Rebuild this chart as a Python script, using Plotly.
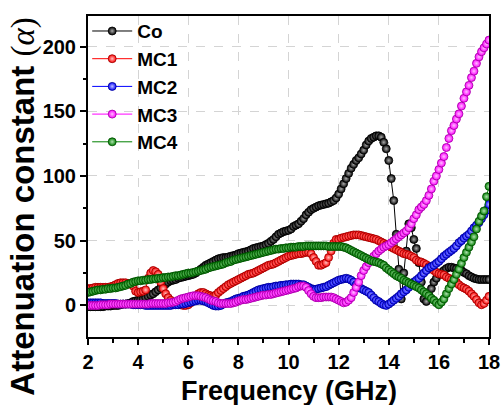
import numpy as np
import plotly.graph_objects as go

# Frequency grid (GHz), 0.1 GHz step from 2 to 18
freq = np.round(np.linspace(2, 18, 161), 2)

co = [
    -1, -1, -1, -1, -1, -1, -1, -0.5, -0.5, -0.5,
    0, 0, 0, 0.5, 1, 1, 1.5, 2, 3, 3.5,
    4, 4.5, 5, 6, 7, 8, 9, 10.5, 12, 13.5,
    15, 16.5, 18, 19, 19.5, 20, 21, 21.5, 22, 22.5,
    23, 23.5, 24, 25, 26.5, 28, 29.5, 31, 32, 33,
    34, 35, 36, 36.5, 37, 37, 37.5, 38, 38.5, 39,
    40, 40.5, 41, 41.5, 42, 43, 44, 44.5, 45, 45.5,
    46, 47, 48, 49.5, 51, 53, 55, 56, 57, 57.5,
    58, 59, 61, 62, 63, 65, 67, 70, 72, 74,
    75, 76, 77, 77.5, 78, 78.5, 79, 80, 81, 83,
    86, 90, 94, 98, 102, 106, 109, 112, 114, 117,
    120, 124, 127, 129, 130, 131, 131, 130, 126, 121,
    112, 98, 81, 55, 28, 5, 25, 42, 63, 60,
    51, 44, 33, 18, 5, 3, 8, 13, 18, 21,
    24, 25.5, 27, 28.5, 29.5, 29.5, 29, 28.5, 28, 27,
    25.5, 24.5, 23, 22, 21, 20.5, 20, 20, 20, 20,
    20,
]

mc1 = [
    13, 13, 13.5, 14, 14, 14, 14, 14, 14, 14.5,
    15, 16, 17, 17.5, 17.5, 17.5, 17, 16.5, 15, 11,
    10, 10.5, 11, 12, 21, 25, 27, 26, 24, 18,
    13, 9, 6, 4, 2.5, 1.5, 1, 0.5, 0, 0,
    0.5, 2, 4, 6.5, 9, 10, 10, 9, 8, 7.5,
    7, 8, 10, 11.5, 13, 14.5, 16, 17, 18, 19,
    20, 21, 22, 23, 24, 24.5, 25, 26, 27, 28,
    29, 30, 31, 31.5, 32, 33, 34, 35, 36, 37,
    38, 38.5, 39, 39.5, 40, 40, 40.5, 41, 41, 40,
    37, 34, 31, 31, 32, 33, 37, 42, 48, 51,
    51, 52, 52.5, 53, 53.5, 54, 54.5, 54.5, 54.5, 54,
    53.5, 53, 52.5, 52, 51.5, 51, 50, 49, 48, 47,
    46, 45, 44, 43, 42, 41, 40, 39.5, 39, 38,
    37, 35, 34, 33.5, 32.5, 31.5, 30, 28.5, 27, 25.5,
    24.5, 24, 23.5, 22, 21, 20, 19, 18, 16, 14.5,
    13.5, 12.5, 11, 9, 7, 4.5, 2, 0.5, 1.5, 4,
    7,
]

mc2 = [
    2, 2, 2, 2, 2, 2, 1.5, 1.5, 1.5, 1.5,
    1.5, 1.5, 1, 1, 1, 1, 1, 1, 0.5, 0.5,
    0.5, 0.5, 0.5, 0, 0, 0, 0, 0, 0, 0,
    0, 0, 0, 0, 0.5, 0.5, 0.5, 1, 1, 1.5,
    2, 2.5, 3, 3.5, 4, 4, 3.5, 3, 2, 1,
    0, -0.5, -0.5, 0, 1, 2, 2.5, 3, 4, 5,
    5.5, 6, 7, 7.5, 8, 9, 10, 11, 12, 12.5,
    13, 13.5, 14, 14, 14.5, 15, 15, 15.5, 15.5, 16,
    16, 16.5, 16.5, 16.5, 16.5, 16, 16, 15, 14, 13,
    12.5, 12.5, 13, 13.5, 14, 14.5, 15.5, 16.5, 17.5, 18.5,
    19.5, 20, 20.5, 21, 20.5, 19.5, 18, 16, 14, 13,
    12, 11, 10, 8, 6, 4, 3, 1.5, 0.5, 0,
    1, 2.5, 4, 5.5, 7, 9, 10.5, 12, 14, 16,
    18, 19.5, 21, 23, 25, 27, 29, 30, 31, 32.5,
    34, 36, 38, 39.5, 41, 42.5, 44, 46, 48.5, 50,
    52, 53.5, 55, 57.5, 60, 62, 64, 67, 70, 73.5,
    78,
]

mc3 = [
    0, 0, 0, 0, 0, 0.5, 0.5, 0.5, 0.5, 1,
    1, 1, 1, 1, 1, 1, 1, 1, 1, 1,
    1, 1, 1, 1, 1, 1.5, 1.5, 1.5, 1.5, 1.5,
    1.5, 1.5, 2, 2, 2.5, 3, 4, 5, 5.5, 6,
    6.5, 7, 7.5, 7.5, 7.5, 7, 6.5, 6, 5, 4,
    3.5, 3, 2, 1.5, 1.5, 1.5, 1.5, 1.5, 2, 2.5,
    3.5, 4, 4.5, 4.5, 5, 5.5, 6, 6.5, 7, 7.5,
    8, 8, 8.5, 8.5, 9, 9.5, 10, 10.5, 11, 11.5,
    12, 12.5, 13, 13.5, 14.5, 15, 15, 14, 11.5, 9,
    7, 6, 6, 6, 6.5, 6.5, 6.5, 6.5, 6, 5,
    4, 3, 2, 2.5, 4, 6, 10, 14, 18, 23,
    27, 30, 33, 35.5, 38, 40, 42, 43.5, 45, 46,
    47, 48.5, 50, 51.5, 53, 54.5, 56, 57.5, 60, 63,
    67, 70, 74, 76, 78, 81, 85, 90, 96, 100,
    105, 110, 115, 122, 129, 135, 139, 144, 148, 154,
    160, 165, 170, 176, 181, 187, 192, 196, 199, 202,
    205,
]

mc4 = [
    10, 10.5, 11, 11.5, 12, 12, 12.5, 12.5, 13, 13,
    13.5, 13.5, 14, 14.5, 15, 15.5, 16.5, 17, 18, 18.5,
    19, 19, 19.5, 19.5, 20, 20, 20.5, 20.5, 21, 21,
    21.5, 21.5, 22, 22, 22.5, 23, 23, 23.5, 24, 24.5,
    25, 25, 25.5, 26, 26.5, 27, 27.5, 28, 29, 29.5,
    30, 30.5, 31, 31.5, 32, 33, 33.5, 34, 35, 35.5,
    36, 36.5, 37, 37.5, 38, 38.5, 39, 39.5, 40, 40.5,
    41, 41.5, 42, 42.5, 43, 43.5, 43.5, 44, 44, 44.5,
    44.5, 45, 45, 45, 45.5, 45.5, 45.5, 46, 46, 46,
    46, 46, 46, 46, 46, 46, 45.5, 45.5, 45.5, 45.5,
    45.5, 45.5, 45, 44.5, 43.5, 42.5, 41.5, 40.5, 39.5, 38.5,
    37.5, 36.5, 35.5, 34.5, 34, 33.5, 33, 32, 31, 29,
    27.5, 26, 24.5, 23, 22, 21, 19.5, 18.5, 17.5, 16.5,
    15.5, 14.5, 13.5, 12, 10.5, 9, 7.5, 5.5, 4, 2,
    0.5, 2.5, 5, 9, 13, 16.5, 20, 24, 28, 32.5,
    37, 41, 45, 49, 53, 59, 65, 69, 73, 84,
    92,
]

names = ["Co", "MC1", "MC2", "MC3", "MC4"]
series = [co, mc1, mc2, mc3, mc4]
colors = ["#000000", "#ff0000", "#0000ff", "#ff00ff", "#008000"]
edge = ["#000000", "#9a0000", "#00008f", "#a000a0", "#004d00"]
hilite = ["#aaaaaa", "#ffc0c0", "#c0c0ff", "#ffc0ff", "#b0e0b0"]

fig = go.Figure()
for nm, ys, c, e, h in zip(names, series, colors, edge, hilite):
    fig.add_trace(go.Scatter(
        x=freq, y=ys, name=nm, mode="lines+markers",
        line=dict(color=c, width=1),
        marker=dict(symbol="circle", size=8, color=c,
                    line=dict(color=e, width=0.8),
                    gradient=dict(type="radial", color=h)),
    ))

FONT = "Liberation Sans, Arial, sans-serif"

fig.update_layout(
    width=503, height=405,
    margin=dict(l=88, r=14, t=14, b=68),
    paper_bgcolor="white", plot_bgcolor="white",
    showlegend=True,
    legend=dict(x=-0.002, y=1.012, xanchor="left", yanchor="top",
                bgcolor="rgba(0,0,0,0)", borderwidth=0,
                font=dict(family=FONT, size=19, color="black", weight="bold"),
                itemwidth=40, tracegroupgap=0),
    font=dict(family=FONT, color="black"),
    annotations=[
        dict(
            text="Attenuation constant <span style='font-weight:normal;font-family:Liberation Serif'>(<i>α</i>)</span>",
            xref="paper", yref="paper", x=-0.163, y=0.405,
            xanchor="center", yanchor="middle", textangle=-90, showarrow=False,
            font=dict(family=FONT, size=33, color="black", weight="bold"),
        ),
        dict(
            text="Frequency (GHz)",
            xref="paper", yref="paper", x=0.501, y=-0.167,
            xanchor="center", yanchor="middle", showarrow=False,
            font=dict(family=FONT, size=27, color="black", weight="bold"),
        ),
    ],
)

fig.update_xaxes(
    range=[2, 18], tickmode="array", tickvals=[2, 4, 6, 8, 10, 12, 14, 16, 18],
    ticks="outside", ticklen=6, tickwidth=2, tickcolor="black",
    minor=dict(ticks="outside", ticklen=3.5, tickwidth=2, tickcolor="black",
               tick0=3, dtick=2, showgrid=False),
    showline=True, linecolor="black", linewidth=2, mirror=True,
    showgrid=True, gridcolor="#d4d4d4", griddash="dash", gridwidth=1,
    zeroline=False, automargin=False,
    tickfont=dict(family=FONT, size=20, color="black", weight="bold"),
)

fig.update_yaxes(
    range=[-24.4, 223.6], tickmode="array", tickvals=[0, 50, 100, 150, 200],
    ticks="outside", ticklen=6, tickwidth=2, tickcolor="black",
    minor=dict(ticks="outside", ticklen=3.5, tickwidth=2, tickcolor="black",
               tick0=25, dtick=50, showgrid=False),
    showline=True, linecolor="black", linewidth=2, mirror=True,
    showgrid=True, gridcolor="#d4d4d4", griddash="dash", gridwidth=1,
    zeroline=False, automargin=False,
    tickfont=dict(family=FONT, size=20, color="black", weight="bold"),
)

fig.write_html("out.html")
